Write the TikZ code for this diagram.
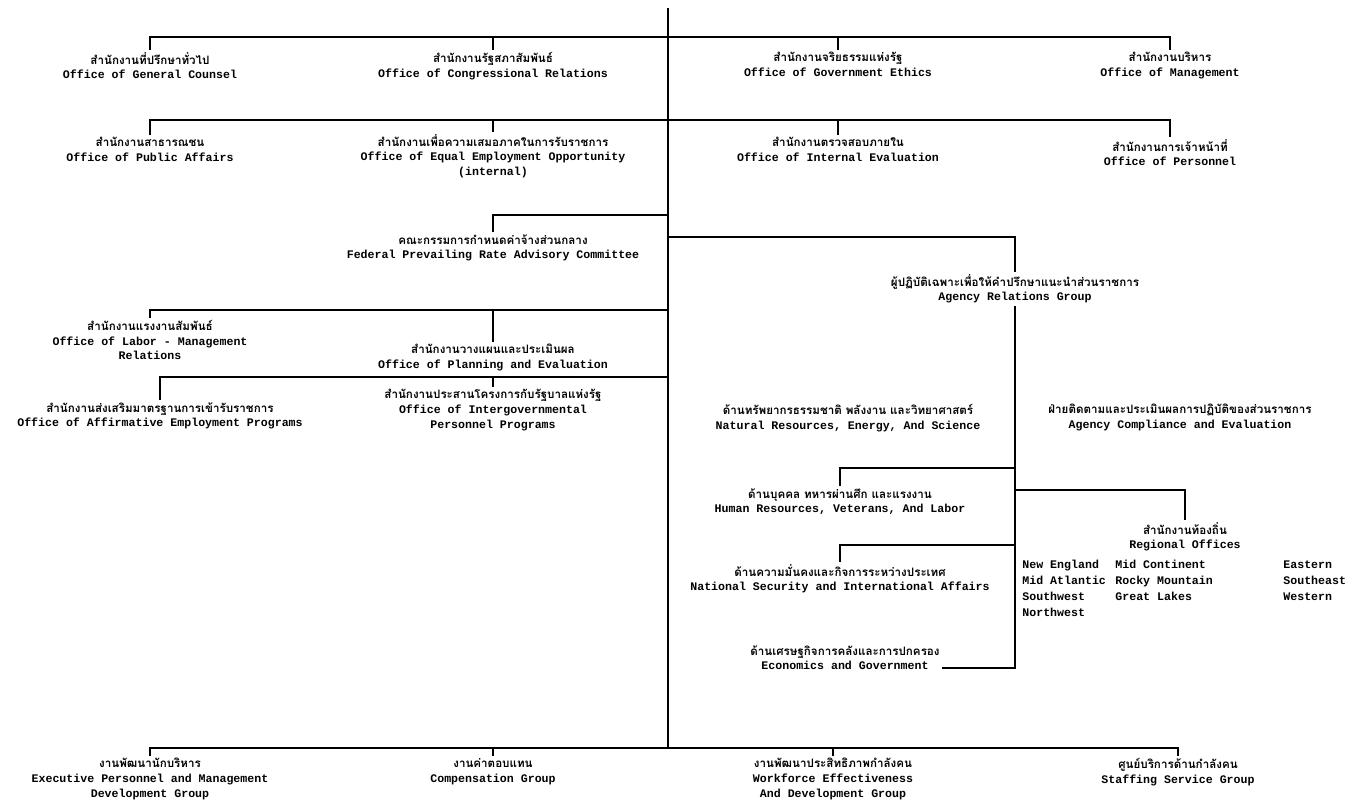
\documentclass[tikz,border=0pt]{standalone}
\usepackage{fontspec}
\setmonofont{Liberation Mono}
\newfontfamily\thaifont[Script=Thai]{Loma}
\newcommand{\orgname}[2]{\thaifont #1\\#2}

\begin{document}
\begin{tikzpicture}[x=0.5pt, y=-0.5pt,
  every node/.style={font=\fontsize{5.8}{7.3}\selectfont\ttfamily\bfseries},
  office/.style={align=center, inner sep=1pt, anchor=north},
  link/.style={line width=0.8pt},
  region/.style={align=left, anchor=north west, inner sep=0pt,
    font=\fontsize{5.8}{8}\selectfont\ttfamily\bfseries}]
\useasboundingbox (0,0) rectangle (1346,803);
% main trunk
\coordinate (top) at (668,8);
\coordinate (t1) at (668,37);
\coordinate (t2) at (668,120);
\coordinate (t3) at (668,215);
\coordinate (t4) at (668,237);
\coordinate (t5) at (668,310);
\coordinate (t6) at (668,377);
\coordinate (t7) at (668,748);
\draw[link] (top) -- (t7);
% first row
\node[office] (gc) at (150,50) {\orgname{สำนักงานที่ปรึกษาทั่วไป}{Office of General Counsel}};
\node[office] (cr) at (493,50) {\orgname{สำนักงานรัฐสภาสัมพันธ์}{Office of Congressional Relations}};
\node[office] (ge) at (838,50) {\orgname{สำนักงานจริยธรรมแห่งรัฐ}{Office of Government Ethics}};
\node[office] (mg) at (1170,50) {\orgname{สำนักงานบริหาร}{Office of Management}};
\foreach \n in {gc,cr,ge,mg} \draw[link] (t1) -| (\n.north);
% second row
\node[office] (pa) at (150,135) {\orgname{สำนักงานสาธารณชน}{Office of Public Affairs}};
\node[office] (eeo) at (493,132) {\orgname{สำนักงานเพื่อความเสมอภาคในการรับราชการ}{Office of Equal Employment Opportunity\\(internal)}};
\node[office] (ie) at (838,135) {\orgname{สำนักงานตรวจสอบภายใน}{Office of Internal Evaluation}};
\node[office] (pe) at (1170,137) {\orgname{สำนักงานการเจ้าหน้าที่}{Office of Personnel}};
\foreach \n in {pa,eeo,ie,pe} \draw[link] (t2) -| (\n.north);
% committee and agency relations
\node[office] (fr) at (493,232) {\orgname{คณะกรรมการกำหนดค่าจ้างส่วนกลาง}{Federal Prevailing Rate Advisory Committee}};
\draw[link] (t3) -| (fr.north);
\node[office] (ar) at (1015,272) {\orgname{ผู้ปฏิบัติเฉพาะเพื่อให้คำปรึกษาแนะนำส่วนราชการ}{Agency Relations Group}};
\draw[link] (t4) -| (ar.north);
% left offices
\node[office] (lm) at (150,318) {\orgname{สำนักงานแรงงานสัมพันธ์}{Office of Labor - Management\\Relations}};
\node[office] (pl) at (493,342) {\orgname{สำนักงานวางแผนและประเมินผล}{Office of Planning and Evaluation}};
\foreach \n in {lm,pl} \draw[link] (t5) -| (\n.north);
\node[office] (ae) at (160,400) {\orgname{สำนักงานส่งเสริมมาตรฐานการเข้ารับราชการ}{Office of Affirmative Employment Programs}};
\node[office] (ig) at (493,387) {\orgname{สำนักงานประสานโครงการกับรัฐบาลแห่งรัฐ}{Office of Intergovernmental\\Personnel Programs}};
\foreach \n in {ae,ig} \draw[link] (t6) -| (\n.north);
% agency relations groups
\node[office] (nr) at (848,402) {\orgname{ด้านทรัพยากรธรรมชาติ พลังงาน และวิทยาศาสตร์}{Natural Resources, Energy, And Science}};
\node[office] (ac) at (1180,402) {\orgname{ฝ่ายติดตามและประเมินผลการปฏิบัติของส่วนราชการ}{Agency Compliance and Evaluation}};
\node[office] (hr) at (840,486) {\orgname{ด้านบุคคล ทหารผ่านศึก และแรงงาน}{Human Resources, Veterans, And Labor}};
\node[office] (ro) at (1185,520) {\orgname{สำนักงานท้องถิ่น}{Regional Offices}};
\node[office] (ns) at (840,562) {\orgname{ด้านความมั่นคงและกิจการระหว่างประเทศ}{National Security and International Affairs}};
\node[office] (ec) at (845,643) {\orgname{ด้านเศรษฐกิจการคลังและการปกครอง}{Economics and Government}};
\coordinate (a1) at (1015,468);
\coordinate (a2) at (1015,490);
\coordinate (a3) at (1015,545);
\coordinate (a4) at (1015,668);
\draw[link] (ar.south) -- (a4) -- (ec.east |- a4);
\draw[link] (a1) -| (hr.north);
\draw[link] (a2) -| (ro.north);
\draw[link] (a3) -| (ns.north);
% regions
\node[region] (rg1) at (1022,560) {New England\\Mid Atlantic\\Southwest\\Northwest};
\node[region] (rg2) at (1115,560) {Mid Continent\\Rocky Mountain\\Great Lakes};
\node[region] (rg3) at (1283,560) {Eastern\\Southeast\\Western};
% bottom row
\node[office] (ex) at (150,756) {\orgname{งานพัฒนานักบริหาร}{Executive Personnel and Management\\Development Group}};
\node[office] (cp) at (493,756) {\orgname{งานค่าตอบแทน}{Compensation Group}};
\node[office] (wf) at (833,756) {\orgname{งานพัฒนาประสิทธิภาพกำลังคน}{Workforce Effectiveness\\And Development Group}};
\node[office] (sf) at (1178,756) {\orgname{ศูนย์บริการด้านกำลังคน}{Staffing Service Group}};
\foreach \n in {ex,cp,wf,sf} \draw[link] (t7) -| (\n.north);
\end{tikzpicture}
\end{document}
